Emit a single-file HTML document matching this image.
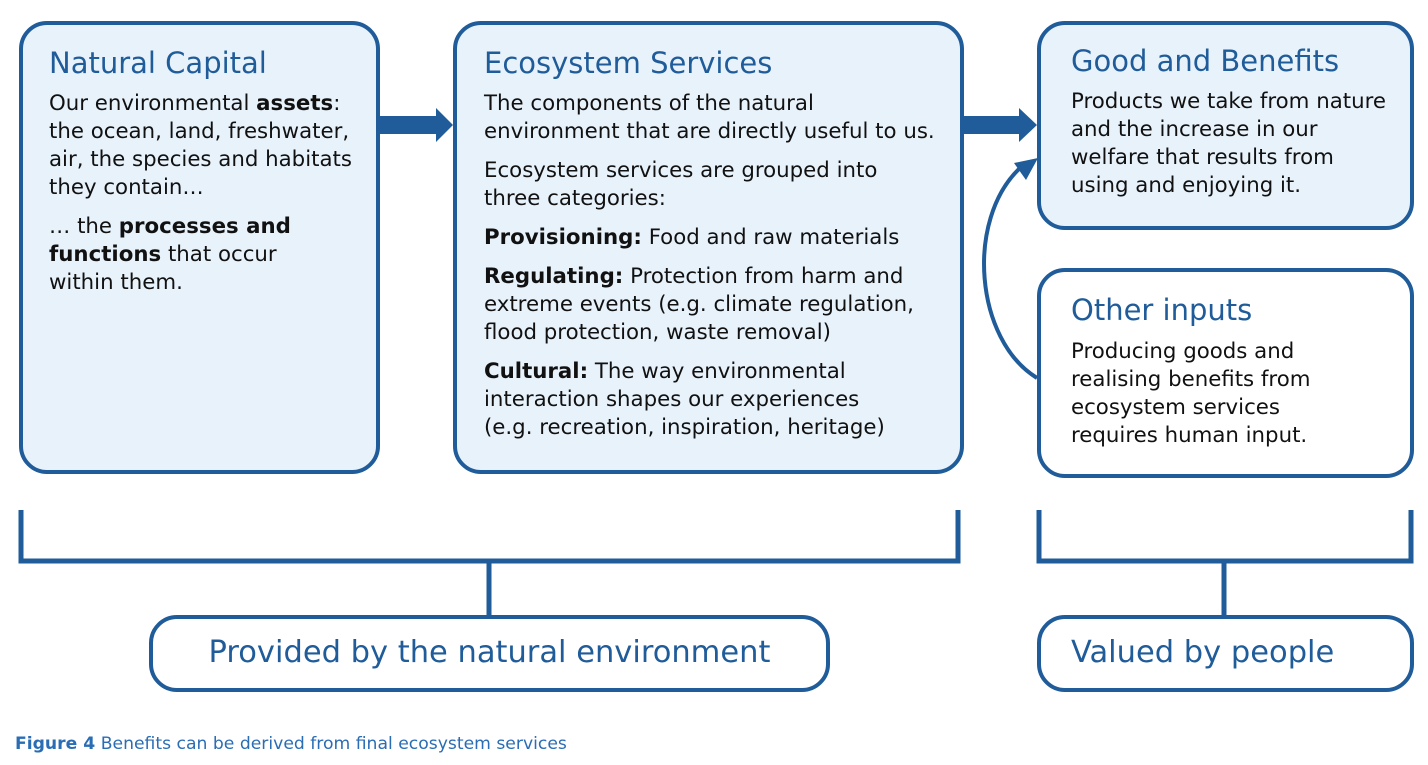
<!DOCTYPE html>
<html><head><meta charset="utf-8"><style>
body{margin:0;width:1428px;height:765px;background:#fff;position:relative;overflow:hidden;font-family:"DejaVu Sans","Liberation Sans",sans-serif;}
.box{position:absolute;border:4px solid #1f5c99;border-radius:28px;box-sizing:border-box;background:#e8f2fb;}
.t{position:absolute;white-space:nowrap;color:#111;font-size:21.3px;line-height:28px;}
.h{position:absolute;white-space:nowrap;color:#1f5c99;font-size:29px;line-height:34px;}
b{font-weight:bold;}
.p{margin-bottom:11px;}
.lbl{position:absolute;color:#1f5c99;font-size:30.5px;text-align:center;line-height:72px;}
</style></head><body>
<div class="box" style="left:19px;top:21px;width:361px;height:453px"></div>
<div class="box" style="left:453px;top:21px;width:511px;height:453px"></div>
<div class="box" style="left:1037px;top:21px;width:377px;height:209px"></div>
<div class="box" style="left:1037px;top:268px;width:377px;height:210px;background:#fff"></div>
<div class="box" style="left:149px;top:615px;width:681px;height:77px;background:#fff"></div>
<div class="box" style="left:1037px;top:615px;width:377px;height:77px;background:#fff"></div>

<svg width="1428" height="765" style="position:absolute;left:0;top:0">
<g fill="#1f5c99">
<rect x="378" y="116" width="60" height="18"/><polygon points="436,108 453,125 436,142"/>
<rect x="962" y="116" width="58" height="18"/><polygon points="1019,108 1037,125 1019,142"/>
</g>
<path d="M1037,378 C975,340 965,220 1020,168" fill="none" stroke="#1f5c99" stroke-width="4"/>
<polygon points="1038,158 1014,163 1026,180" fill="#1f5c99"/>
<g fill="none" stroke="#1f5c99" stroke-width="5">
<path d="M21,510 V561 H958 V510"/><path d="M489,561 V615"/>
<path d="M1039,510 V561 H1411 V510"/><path d="M1224,561 V615"/>
</g>
</svg>

<div class="h" style="left:49px;top:46px">Natural Capital</div>
<div class="t" style="left:49px;top:90px"><div class="p">Our environmental <b>assets</b>:<br>the ocean, land, freshwater,<br>air, the species and habitats<br>they contain…</div>… the <b>processes and<br>functions</b> that occur<br>within them.</div>

<div class="h" style="left:484px;top:46px">Ecosystem Services</div>
<div class="t" style="left:484px;top:90px"><div class="p">The components of the natural<br>environment that are directly useful to us.</div><div class="p">Ecosystem services are grouped into<br>three categories:</div><div class="p"><b>Provisioning:</b> Food and raw materials</div><div class="p"><b>Regulating:</b> Protection from harm and<br>extreme events (e.g. climate regulation,<br>flood protection, waste removal)</div><b>Cultural:</b> The way environmental<br>interaction shapes our experiences<br>(e.g. recreation, inspiration, heritage)</div>

<div class="h" style="left:1071px;top:44px">Good and Benefits</div>
<div class="t" style="left:1071px;top:88px">Products we take from nature<br>and the increase in our<br>welfare that results from<br>using and enjoying it.</div>

<div class="h" style="left:1071px;top:293px">Other inputs</div>
<div class="t" style="left:1071px;top:338px">Producing goods and<br>realising benefits from<br>ecosystem services<br>requires human input.</div>

<div class="lbl" style="left:149px;top:617px;width:681px">Provided by the natural environment</div>
<div class="lbl" style="left:1071px;top:617px;text-align:left">Valued by people</div>

<div style="position:absolute;left:15px;top:734px;font-size:17.2px;color:#2a6db5;white-space:nowrap"><b>Figure 4</b> Benefits can be derived from final ecosystem services</div>
</body></html>
